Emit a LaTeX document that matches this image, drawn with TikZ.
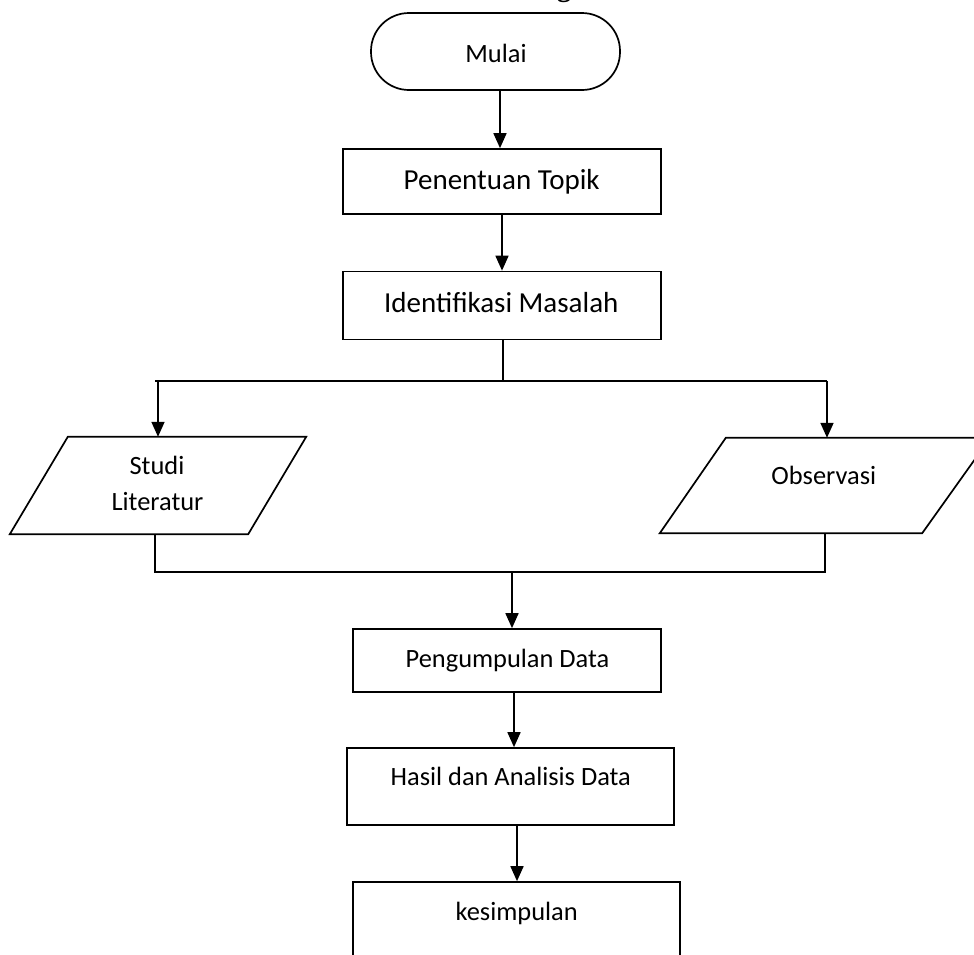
\documentclass[tikz,border=0pt]{standalone}
\usepackage{fontspec}
\setmainfont{Carlito}
\newfontfamily\headfont{Liberation Serif}
\usetikzlibrary{arrows.meta}
\tikzset{
  box/.style={draw, line width=1.7pt, inner sep=0pt, rectangle},
  ghost/.style={draw=none, inner sep=0pt, rectangle},
  lbl/.style={inner sep=0pt, anchor=base, font=\fontsize{26.4}{37}\selectfont},
  lblbig/.style={inner sep=0pt, anchor=base, font=\fontsize{29}{35}\selectfont},
  conn/.style={line width=1.7pt},
  arr/.style={line width=1.7pt, -{Triangle[length=15pt,width=13pt]}},
  para/.style={line width=1.7pt, line join=miter}
}
\begin{document}
\begin{tikzpicture}[x=1pt,y=-1pt]
\useasboundingbox (0,0) rectangle (974,954);
\clip (0,0) rectangle (974,954);
\fill[white] (0,0) rectangle (974,954);

% heading fragment (only the descender shows)
\node[inner sep=0pt, anchor=base, font=\headfont\bfseries\fontsize{28}{30}\selectfont] (head) at (564,-4) {g};

% shapes
\node[box, rounded corners=38pt, minimum width=249pt, minimum height=77pt] (mulai) at (495.5,51.5) {};
\node[box, minimum width=318pt, minimum height=65pt] (pen) at (502,181.5) {};
\node[box, minimum width=318pt, minimum height=68pt] (ident) at (502,305.5) {};
\node[ghost, minimum width=296pt, minimum height=97pt] (studi) at (158,485.5) {};
\node[ghost, minimum width=330pt, minimum height=95pt] (obs) at (825,485.5) {};
\node[box, minimum width=308pt, minimum height=63pt] (peng) at (507,660.5) {};
\node[box, minimum width=327pt, minimum height=77pt] (hasil) at (510.5,786.5) {};
\node[box, minimum width=327pt, minimum height=90pt] (kes) at (516.5,927) {};

% parallelogram outlines
\draw[para] (studi.south west) -- ([xshift=-58pt]studi.south east) -- (studi.north east) -- ([xshift=58pt]studi.north west) -- cycle;
\draw[para] (obs.south west) -- ([xshift=-68pt]obs.south east) -- (obs.north east) -- ([xshift=66pt]obs.north west) -- cycle;

% texts
\node[lbl] (tmulai) at (496,62.3) {Mulai};
\node[lblbig] (tpen) at (501.7,189.3) {Penentuan Topik};
\node[lblbig] (tident) at (501.3,312) {Identifikasi Masalah};
\node[lbl] (tstudi1) at (157,474.3) {Studi};
\node[lbl] (tstudi2) at (157.5,510.7) {Literatur};
\node[lbl] (tobs) at (823.8,484) {Observasi};
\node[lbl] (tpeng) at (507.5,667) {Pengumpulan Data};
\node[lbl] (thasil) at (510.8,785.7) {Hasil dan Analisis Data};
\node[lbl] (tkes) at (516.7,920) {kesimpulan};

% guide coordinates
\coordinate (x1) at (500,0);
\coordinate (x2) at (502,0);
\coordinate (jn1) at (503,381);
\coordinate (jn2) at (512,572);
\coordinate (x4) at (514,0);
\coordinate (x5) at (517,0);
\coordinate (xl) at (155,0);
\coordinate (xr) at (827,0);

% connectors
\draw[arr] (mulai.south -| x1) -- (pen.north -| x1);
\draw[arr] (pen.south -| x2) -- (ident.north -| x2);
\draw[conn] (ident.south -| jn1) -- (jn1);
\draw[conn] (xl |- jn1) -- (xr |- jn1);
\draw[arr] (studi.north |- jn1) -- (studi.north);
\draw[arr] (xr |- jn1) -- (xr |- obs.north);
\draw[conn] (studi.south -| xl) |- (obs.south |- jn2) -- (obs.south);
\draw[arr] (jn2) -- (peng.north -| jn2);
\draw[arr] (peng.south -| x4) -- (hasil.north -| x4);
\draw[arr] (hasil.south -| x5) -- (kes.north -| x5);
\end{tikzpicture}
\end{document}
